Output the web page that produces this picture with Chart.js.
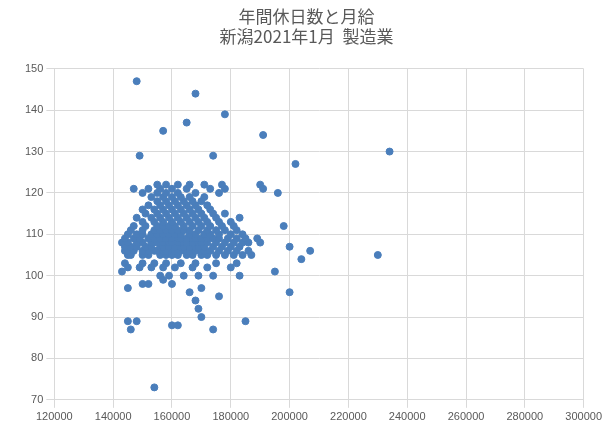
<!DOCTYPE html>
<html><head><meta charset="utf-8">
<script src="https://cdn.jsdelivr.net/npm/chart.js@4"></script>
<style>body{margin:0;background:#fff}#w{width:605px;height:431px}</style>
</head><body><div id="w"><canvas id="c"></canvas></div>
<script>
const salary = [
148000,168000,178000,165000,157000,191000,234000,202000,149000,174000,230000,207000,204000,200000,195000,200000,196000,198000,190000,191000,189000,190000,185000,174000,170000,169000,168000,154000,145000,146000,148000,160000,162000,143000,145000,150000,152000,
145000,146000,150000,152000,156000,158000,160000,162000,165000,167000,170000,172000,175000,178000,181000,184000,187000,
144000,145000,147000,150000,152000,154000,155000,157000,158000,160000,161000,163000,165000,166000,168000,170000,171000,173000,176000,179000,182000,186000,
144000,146000,148000,151000,153000,156000,157000,159000,161000,163000,164000,166000,168000,169000,171000,174000,177000,180000,183000,
143000,145000,148000,150000,153000,155000,157000,159000,160000,162000,164000,165000,167000,169000,170000,172000,175000,178000,181000,184000,186000,
144000,147000,149000,152000,154000,156000,158000,160000,162000,163000,165000,167000,168000,170000,172000,174000,176000,179000,182000,185000,
145000,148000,150000,153000,155000,157000,159000,161000,163000,166000,168000,171000,173000,176000,180000,184000,
146000,150000,154000,156000,158000,160000,162000,164000,166000,169000,172000,175000,178000,182000,
147000,151000,155000,157000,159000,161000,164000,167000,170000,173000,177000,181000,
150000,154000,157000,160000,163000,166000,169000,172000,176000,180000,
148000,153000,156000,159000,162000,165000,168000,171000,175000,183000,
151000,155000,158000,161000,164000,167000,170000,174000,178000,
150000,154000,157000,160000,163000,166000,169000,173000,
152000,156000,159000,162000,165000,168000,172000,
155000,158000,161000,164000,167000,170000,
153000,157000,160000,163000,166000,171000,
150000,155000,158000,162000,168000,176000,
147000,152000,156000,160000,165000,173000,178000,
155000,158000,162000,166000,171000,177000,
144000,150000,154000,158000,163000,168000,175000,182000,
145000,149000,153000,157000,161000,167000,172000,180000,
156000,159000,164000,169000,174000,183000,
157000,160000,166000,170000,176000
];
const holidays = [
147,144,139,137,135,134,130,127,129,129,105,106,104,107,101,96,120,112,122,121,109,108,89,87,90,92,94,73,89,87,89,88,88,101,97,98,98,
105,105,105,105,105,105,105,105,105,105,105,105,105,105,105,105,105,
106,106,106,106,106,106,106,106,106,106,106,106,106,106,106,106,106,106,106,106,106,106,
107,107,107,107,107,107,107,107,107,107,107,107,107,107,107,107,107,107,107,
108,108,108,108,108,108,108,108,108,108,108,108,108,108,108,108,108,108,108,108,108,
109,109,109,109,109,109,109,109,109,109,109,109,109,109,109,109,109,109,109,109,
110,110,110,110,110,110,110,110,110,110,110,110,110,110,110,110,
111,111,111,111,111,111,111,111,111,111,111,111,111,111,
112,112,112,112,112,112,112,112,112,112,112,112,
113,113,113,113,113,113,113,113,113,113,
114,114,114,114,114,114,114,114,114,114,
115,115,115,115,115,115,115,115,115,
116,116,116,116,116,116,116,116,
117,117,117,117,117,117,117,
118,118,118,118,118,118,
119,119,119,119,119,119,
120,120,120,120,120,120,
121,121,121,121,121,121,121,
122,122,122,122,122,122,
103,103,103,103,103,103,103,103,
102,102,102,102,102,102,102,102,
100,100,100,100,100,100,
99,98,96,97,95
];
const points = salary.map((x,i)=>({x, y: holidays[i]}));
new Chart(document.getElementById('c'), {
  type:'scatter',
  data:{datasets:[{data:points, backgroundColor:'#4a7ebb', borderColor:'#4a7ebb', pointRadius:3.5, pointHoverRadius:3.5}]},
  options:{responsive:true, maintainAspectRatio:false, animation:false,
    layout:{padding:{left:22,right:14,top:6,bottom:4}},
    plugins:{legend:{display:false}, tooltip:{enabled:false},
      title:{display:true, text:['年間休日数と月給','新潟2021年1月  製造業'], color:'#595959', font:{size:17, family:'Noto Sans CJK JP', weight:'normal'}, padding:{bottom:22}}},
    scales:{
      x:{min:120000,max:300000,ticks:{stepSize:20000,color:'#595959',font:{size:11},callback:v=>String(v)},grid:{color:'#d9d9d9'},border:{color:'#d9d9d9'}},
      y:{min:70,max:150,ticks:{stepSize:10,color:'#595959',font:{size:11}},grid:{color:'#d9d9d9'},border:{color:'#d9d9d9'}}
    }}
});
</script></body></html>
